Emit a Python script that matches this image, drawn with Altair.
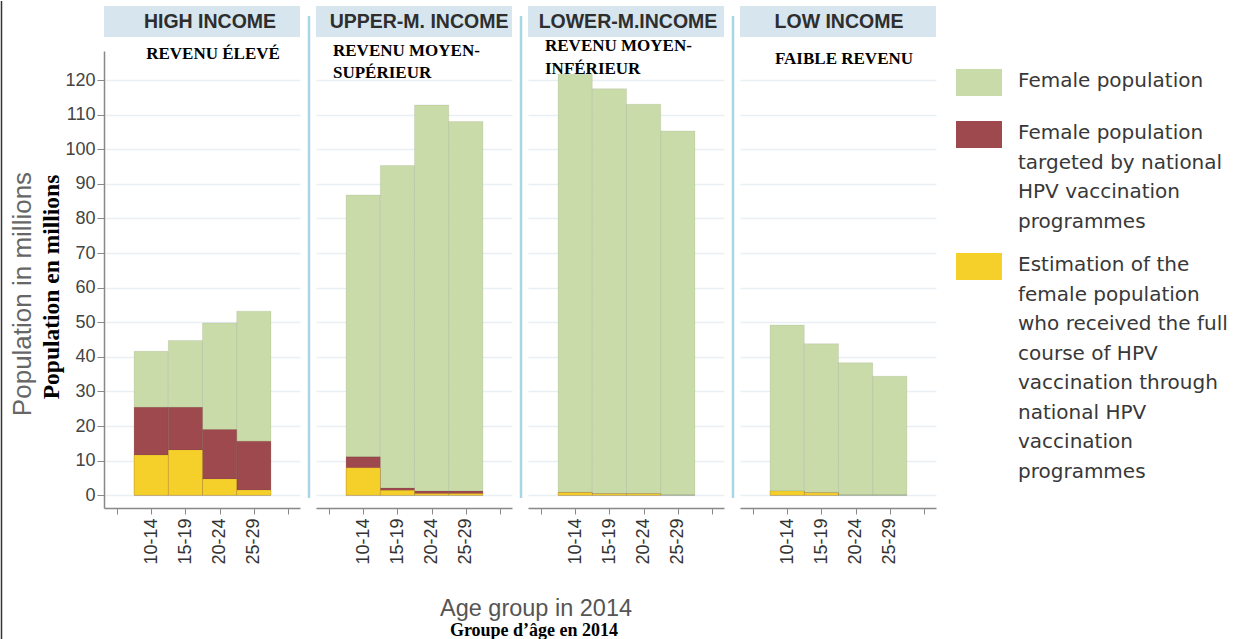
import altair as alt
import pandas as pd

# ---------------- data ----------------
income_groups = ["HIGH INCOME", "UPPER-M. INCOME", "LOWER-M.INCOME", "LOW INCOME"]
french_groups = ["REVENU ÉLEVÉ", "REVENU MOYEN-\nSUPÉRIEUR", "REVENU MOYEN-\nINFÉRIEUR", "FAIBLE REVENU"]
age_groups = ["10-14", "15-19", "20-24", "25-29"]

series_names = [
    "Female population",
    "Female population targeted by national HPV vaccination programmes",
    "Estimation of the female population who received the full course of HPV vaccination through national HPV vaccination programmes",
]
legend_lines = [
    ["Female population"],
    ["Female population", "targeted by national", "HPV vaccination", "programmes"],
    ["Estimation of the", "female population", "who received the full", "course of HPV",
     "vaccination through", "national HPV", "vaccination", "programmes"],
]

# millions, per income group, per age group
female_pop = {
    "HIGH INCOME": [41.6, 44.7, 49.8, 53.2],
    "UPPER-M. INCOME": [86.8, 95.3, 112.8, 108.0],
    "LOWER-M.INCOME": [121.7, 117.5, 113.0, 105.3],
    "LOW INCOME": [49.2, 43.8, 38.3, 34.4],
}
targeted_pop = {
    "HIGH INCOME": [25.4, 25.4, 19.0, 15.6],
    "UPPER-M. INCOME": [11.1, 2.1, 1.2, 1.2],
    "LOWER-M.INCOME": [0.8, 0.4, 0.4, 0.0],
    "LOW INCOME": [1.2, 0.7, 0.0, 0.0],
}
vaccinated_pop = {
    "HIGH INCOME": [11.6, 13.1, 4.7, 1.5],
    "UPPER-M. INCOME": [7.9, 1.4, 0.5, 0.5],
    "LOWER-M.INCOME": [0.8, 0.4, 0.4, 0.0],
    "LOW INCOME": [1.2, 0.7, 0.0, 0.0],
}
y_ticks = list(range(0, 130, 10))

# ---------------- styles / layout ----------------
bar_colors = ["#c9dba8", "#9d494e", "#f6d02a"]
legend_colors = ["#c6daa2", "#963737", "#fbc01c"]
SANS = "Liberation Sans"
SERIF = "Liberation Serif"
LEGEND_FONT = "DejaVu Sans"
W, H = 196, 457
XDOM = [-0.38, 5.35]
YDOM = [-3.7, 128.4]
HEAD_DX = [8, 5, 2, 1]
LEGEND_TEXT_Y = [30, 82, 214]
LEGEND_LH = 29.5

rows = []
for s_idx, src in enumerate([female_pop, targeted_pop, vaccinated_pop]):
    for g in income_groups:
        for i, a in enumerate(age_groups):
            rows.append({"group": g, "age": a, "pos": i + 1,
                         "series": series_names[s_idx], "value": src[g][i]})
df = pd.DataFrame(rows)

one = pd.DataFrame({"k": [0]})
age_js = "[" + ",".join("'" + a + "'" for a in age_groups) + "]"
label_expr = f"{age_js}[datum.value - 1] || ''"


def x_axis():
    return alt.Axis(values=[0, 1, 2, 3, 4, 5], labelExpr=label_expr, labelAngle=270,
                    labelFont=SANS, labelFontSize=18, labelColor="#333",
                    tickSize=6, tickColor="#888", domainColor="#888", domainWidth=1.5,
                    labelPadding=4, labelFlush=False, labelOverlap=False,
                    grid=False, title=None)


def y_axis(first):
    if first:
        return alt.Axis(values=y_ticks, labelFont=SANS, labelFontSize=18, labelColor="#444",
                        tickSize=7, tickColor="#888", domainColor="#888", domainWidth=1.5,
                        labelPadding=2, grid=True, gridColor="#e8f0f4", gridWidth=1.5,
                        title=None)
    return alt.Axis(values=y_ticks, labels=False, ticks=False, domain=False,
                    grid=True, gridColor="#e8f0f4", gridWidth=1.5, title=None)


def text_layer(text, x, y, size, font=SERIF, weight="bold", fill="#000", align="center",
               baseline="middle", angle=0, lh=None):
    kw = dict(text=text, font=font, fontSize=size, fontWeight=weight, fill=fill,
              align=align, baseline=baseline, angle=angle)
    if lh is not None:
        kw.update(lineHeight=lh, lineBreak="\n")
    return alt.Chart(one).mark_text(**kw).encode(x=alt.value(x), y=alt.value(y))


def panel(k):
    g = income_groups[k]
    bars = alt.Chart(df[df.group == g]).transform_calculate(
        x0="datum.pos - 0.5", x1="datum.pos + 0.5"
    ).mark_rect(stroke="#000", strokeOpacity=0.07, strokeWidth=1).encode(
        x=alt.X("x0:Q", scale=alt.Scale(domain=XDOM, nice=False, zero=False), axis=x_axis()),
        x2="x1:Q",
        y=alt.Y("value:Q", scale=alt.Scale(domain=YDOM, nice=False, zero=False),
                axis=y_axis(k == 0), stack=None),
        y2=alt.datum(0),
        color=alt.Color("series:N", scale=alt.Scale(domain=series_names, range=bar_colors),
                        legend=None),
    )
    strip = alt.Chart(one).mark_rect(fill="#d6e5ee").encode(
        x=alt.value(0), x2=alt.value(W), y=alt.value(-45), y2=alt.value(-14))
    head = text_layer(g, W / 2 + HEAD_DX[k], -29.5, 19.5, font=SANS, fill="#2e2e2e")
    if k == 0:
        fr = text_layer(french_groups[k], 109, 3, 17)
    elif k == 1:
        fr = text_layer(french_groups[k], 17, -11, 17, align="left", baseline="line-top", lh=22)
    elif k == 2:
        fr = text_layer(french_groups[k], 17, -16.5, 17, align="left", baseline="line-top", lh=23)
    else:
        fr = text_layer(french_groups[k], 104, 8, 17)
    layers = [bars, strip, head, fr]
    if k > 0:
        layers.append(alt.Chart(one).mark_rule(color="#a9d6e5", strokeWidth=2.5).encode(
            x=alt.value(-7), y=alt.value(-35), y2=alt.value(447)))
    if k == 0:
        layers.append(alt.Chart(one).mark_rule(color="#333", strokeWidth=1.5).encode(
            x=alt.value(-102.5), y=alt.value(-50), y2=alt.value(589)))
        layers.append(text_layer("Population in millions", -81, 243, 26, font=SANS,
                                 weight="normal", fill="#666", angle=270))
        layers.append(text_layer("Population en millions", -52, 236, 23.5, angle=270))
    if k == 2:
        layers.append(text_layer("Age group in 2014", 8, 558, 23.5, font=SANS,
                                 weight="normal", fill="#555"))
        layers.append(text_layer("Groupe d’âge en 2014", 6, 580, 18))
    return alt.layer(*layers).properties(width=W, height=H)


leg_rows = []
for i, s in enumerate(series_names):
    leg_rows.append({"series": s, "label": "\n".join(legend_lines[i]),
                     "ty": LEGEND_TEXT_Y[i] - LEGEND_LH / 2,
                     "sq0": LEGEND_TEXT_Y[i] + 1.5 - 13.5, "sq1": LEGEND_TEXT_Y[i] + 1.5 + 13.5})
leg_df = pd.DataFrame(leg_rows)

leg_sq = alt.Chart(leg_df).mark_rect().encode(
    x=alt.value(4), x2=alt.value(50),
    y=alt.Y("sq0:Q", scale=None, axis=None), y2="sq1:Q",
    color=alt.Color("series:N", scale=alt.Scale(domain=series_names, range=legend_colors), legend=None),
)
leg_txt = alt.Chart(leg_df).mark_text(font=LEGEND_FONT, fontSize=20, fill="#383838", align="left",
                                      baseline="line-top", lineHeight=LEGEND_LH, lineBreak="\n").encode(
    x=alt.value(66), y=alt.Y("ty:Q", scale=None, axis=None), text="label:N")
legend = alt.layer(leg_sq, leg_txt).properties(width=270, height=H)

chart = alt.hconcat(panel(0), panel(1), panel(2), panel(3), legend,
                    spacing=16, bounds="flush").properties(
    padding={"left": 0, "top": 0, "right": 0, "bottom": 0},
    background="white",
).configure_view(strokeWidth=0)

chart.save("out.html", embed_options={"renderer": "svg", "actions": False})
